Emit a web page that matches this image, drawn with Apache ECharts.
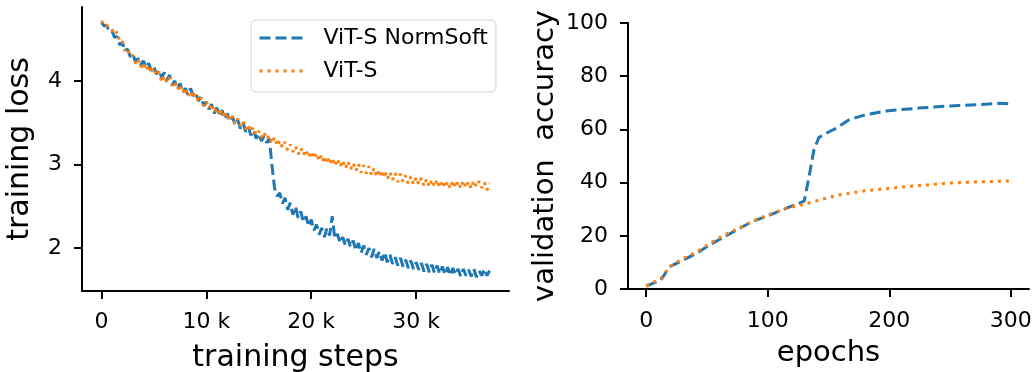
<!DOCTYPE html>
<html>
<head>
<meta charset="utf-8">
<script src="https://cdn.jsdelivr.net/npm/echarts@6/dist/echarts.min.js"></script>
<style>
  html, body { margin: 0; padding: 0; background: #fff; }
  #chart { width: 1036px; height: 372px; }
</style>
</head>
<body>
<div id="chart"></div>
<script>
// ---- data ----
const seriesNames = ['ViT-S NormSoft', 'ViT-S'];
const stepInterval = 250; // training steps between logged loss values

const lossNormSoft = [
  4.70,4.66,4.66,4.59,4.60,4.52,4.53,4.43,4.46,4.36,4.38,4.29,4.32,4.23,4.27,4.19,4.24,4.16,4.21,4.12,
  4.17,4.08,4.13,4.04,4.10,4.01,4.07,3.95,4.00,3.90,3.97,3.86,3.91,3.83,3.91,3.82,3.85,3.76,3.81,3.70,
  3.75,3.66,3.72,3.61,3.68,3.59,3.65,3.54,3.61,3.51,3.57,3.47,3.53,3.43,3.50,3.39,3.45,3.35,3.41,3.31,
  3.37,3.28,3.34,3.26,3.31,3.00,2.72,2.62,2.66,2.53,2.60,2.46,2.54,2.40,2.50,2.36,2.44,2.31,2.38,2.26,
  2.34,2.21,2.28,2.16,2.24,2.13,2.24,2.15,2.38,2.11,2.17,2.06,2.13,2.03,2.11,2.01,2.09,1.97,2.06,1.94,
  2.03,1.92,2.00,1.89,1.99,1.88,1.96,1.85,1.95,1.83,1.92,1.81,1.89,1.79,1.88,1.78,1.86,1.76,1.85,1.75,
  1.83,1.74,1.82,1.72,1.81,1.71,1.80,1.70,1.79,1.69,1.78,1.68,1.77,1.67,1.76,1.68,1.75,1.66,1.75,1.67,
  1.74,1.66,1.75,1.65,1.73,1.67,1.75,1.67,1.73
];
const lossBaseline = [
  4.72,4.66,4.67,4.62,4.62,4.55,4.59,4.46,4.47,4.36,4.39,4.29,4.31,4.21,4.26,4.16,4.22,4.12,4.19,4.09,
  4.16,4.06,4.11,3.98,4.06,3.98,4.04,3.94,3.99,3.89,3.96,3.85,3.92,3.81,3.88,3.79,3.85,3.75,3.80,3.70,
  3.76,3.67,3.73,3.62,3.68,3.58,3.66,3.55,3.62,3.52,3.58,3.48,3.55,3.46,3.52,3.42,3.48,3.39,3.45,3.35,
  3.40,3.32,3.39,3.30,3.35,3.25,3.33,3.22,3.29,3.20,3.27,3.17,3.24,3.15,3.22,3.12,3.20,3.11,3.18,3.08,
  3.16,3.07,3.14,3.04,3.12,3.01,3.10,3.00,3.08,2.98,3.07,2.97,3.05,2.95,3.04,2.94,3.02,2.92,3.01,2.90,
  2.99,2.89,2.98,2.87,2.96,2.85,2.94,2.84,2.93,2.82,2.91,2.81,2.90,2.79,2.89,2.79,2.87,2.77,2.86,2.76,
  2.85,2.76,2.84,2.74,2.83,2.73,2.82,2.73,2.82,2.72,2.81,2.72,2.80,2.71,2.81,2.72,2.80,2.71,2.81,2.72,
  2.80,2.71,2.81,2.73,2.80,2.72,2.79,2.69,2.78
];

const epochsNormSoft = [0,12,19,30,41,52,63,74,87,100,115,130,134,138,142,148,156,167,180,199,224,249,273,290,299];
const accNormSoft    = [1.1,3.3,8.3,10.8,13.3,16.5,19.3,22.1,25.3,27.5,30.3,33.0,42.2,52.3,56.9,58.5,60.4,63.6,65.5,67.0,68.0,68.8,69.3,69.8,69.6];
const epochsBaseline = [0,12,19,30,41,52,63,74,87,100,115,130,142,158,180,199,224,249,273,299];
const accBaseline    = [1.1,3.9,8.3,11.4,13.8,17.0,20.0,22.4,25.3,27.8,30.3,31.9,33.4,35.3,36.9,37.8,38.9,39.8,40.3,40.6];

const stepTicks  = [0, 10000, 20000, 30000];
const lossTicks  = [2, 3, 4];
const epochTicks = [0, 100, 200, 300];

// ---- chart ----
const BLUE = '#1f77b4', ORANGE = '#ff7f0e';
const FONT = 'DejaVu Sans';
const DASHED = [11, 5], DOTTED = [3, 5];

const pairs = (xs, ys) => ys.map((v, i) => [xs[i], v]);
const stepsOf = arr => arr.map((_, i) => i * stepInterval);

const axisCommon = {
  axisLine: { show: true, onZero: false, lineStyle: { color: '#000', width: 2 } },
  axisTick: { show: true, length: 8, lineStyle: { color: '#000', width: 2 } },
  splitLine: { show: false },
  nameLocation: 'middle',
  nameTextStyle: { fontFamily: FONT, fontSize: 29, color: '#000' }
};
const tickFont = { fontFamily: FONT, fontSize: 22, color: '#000' };

const chart = echarts.init(document.getElementById('chart'), null, { renderer: 'canvas' });
chart.setOption({
  animation: false,
  backgroundColor: '#fff',
  textStyle: { fontFamily: FONT },
  legend: {
    data: seriesNames,
    orient: 'vertical',
    left: 251, top: 20,
    padding: [6, 8, 9, 7],
    itemWidth: 45, itemHeight: 14, itemGap: 9,
    backgroundColor: 'rgba(255,255,255,0.8)',
    borderColor: '#d3d3d3', borderWidth: 1, borderRadius: 5,
    lineStyle: { width: 3 },
    itemStyle: { opacity: 0, borderWidth: 0 },
    textStyle: { fontFamily: FONT, fontSize: 22, color: '#000', lineHeight: 24, padding: [0, 0, 0, 14] }
  },
  grid: [
    { left: 82, top: 7, width: 427, height: 284, outerBoundsMode: 'none', containLabel: false },
    { left: 628, top: 23, width: 401, height: 266, outerBoundsMode: 'none', containLabel: false }
  ],
  xAxis: [
    Object.assign({}, axisCommon, {
      gridIndex: 0, type: 'value', min: -1850, max: 38850,
      name: 'training steps', nameGap: 52,
      nameTextStyle: { fontFamily: FONT, fontSize: 30, color: '#000' },
      axisTick: Object.assign({}, axisCommon.axisTick, { customValues: stepTicks }),
      axisLabel: Object.assign({ customValues: stepTicks, margin: 20,
        formatter: v => v === 0 ? '0' : (v / 1000) + ' k' }, tickFont)
    }),
    Object.assign({}, axisCommon, {
      gridIndex: 1, type: 'value', min: -15, max: 315,
      name: 'epochs', nameGap: 50,
      axisTick: Object.assign({}, axisCommon.axisTick, { customValues: epochTicks }),
      axisLabel: Object.assign({ customValues: epochTicks, margin: 21 }, tickFont)
    })
  ],
  yAxis: [
    Object.assign({}, axisCommon, {
      gridIndex: 0, type: 'value', min: 1.486, max: 4.884,
      name: 'training loss', nameGap: 47,
      nameTextStyle: { fontFamily: FONT, fontSize: 30, color: '#000' },
      axisTick: Object.assign({}, axisCommon.axisTick, { customValues: lossTicks }),
      axisLabel: Object.assign({ customValues: lossTicks, margin: 20 }, tickFont)
    }),
    Object.assign({}, axisCommon, {
      gridIndex: 1, type: 'value', min: 0, max: 100, interval: 20,
      name: 'validation  accuracy', nameGap: 68,
      axisLabel: Object.assign({ margin: 20 }, tickFont)
    })
  ],
  series: [
    { name: seriesNames[1], type: 'line', xAxisIndex: 0, yAxisIndex: 0, symbol: 'none',
      data: pairs(stepsOf(lossBaseline), lossBaseline), z: 2,
      lineStyle: { color: ORANGE, width: 3, type: DOTTED, cap: 'butt' }, itemStyle: { color: ORANGE } },
    { name: seriesNames[0], type: 'line', xAxisIndex: 0, yAxisIndex: 0, symbol: 'none',
      data: pairs(stepsOf(lossNormSoft), lossNormSoft), z: 1,
      lineStyle: { color: BLUE, width: 3, type: DASHED, cap: 'butt' }, itemStyle: { color: BLUE } },
    { name: seriesNames[0], type: 'line', xAxisIndex: 1, yAxisIndex: 1, symbol: 'none',
      data: pairs(epochsNormSoft, accNormSoft),
      lineStyle: { color: BLUE, width: 3, type: DASHED, cap: 'butt' }, itemStyle: { color: BLUE } },
    { name: seriesNames[1], type: 'line', xAxisIndex: 1, yAxisIndex: 1, symbol: 'none',
      data: pairs(epochsBaseline, accBaseline),
      lineStyle: { color: ORANGE, width: 3, type: DOTTED, cap: 'butt' }, itemStyle: { color: ORANGE } }
  ]
});
</script>
</body>
</html>
